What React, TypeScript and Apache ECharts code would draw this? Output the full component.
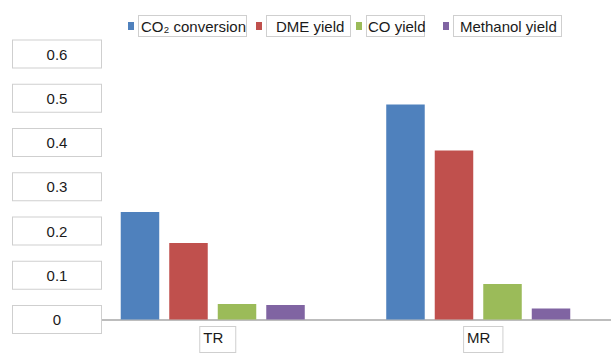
import React, { useEffect, useRef } from "react";
import * as echarts from "echarts";

const categories = ["TR", "MR"];
const seriesNames = ["CO₂ conversion", "DME yield", "CO yield", "Methanol yield"];
const co2Conversion = [0.243, 0.486];
const dmeYield = [0.173, 0.382];
const coYield = [0.035, 0.08];
const methanolYield = [0.033, 0.025];
const yTickLabels = ["0", "0.1", "0.2", "0.3", "0.4", "0.5", "0.6"];

const colors = ["#4F81BD", "#C0504D", "#9BBB59", "#8064A2"];
const FONT = "'Liberation Sans', Arial, sans-serif";
const BOX = "#cfcfcf";

export default function App() {
  const ref = useRef<HTMLDivElement>(null);
  useEffect(() => {
    if (!ref.current) return;
    const chart = echarts.init(ref.current, null, { renderer: "svg" });
    const values = [co2Conversion, dmeYield, coYield, methanolYield];
    const legendCfg = [
      { left: 128, width: 104, padding: [2, 1, 2, 2] },
      { left: 256, width: 72, padding: [2, 2, 2, 9] },
      { left: 356, width: 56, padding: [2, 0, 2, 1] },
      { left: 443, width: 100, padding: [2, 1, 2, 6] },
    ];
    const option: any = {
      animation: false,
      textStyle: { fontFamily: FONT },
      color: colors,
      legend: seriesNames.map((name, i) => ({
        left: legendCfg[i].left,
        top: 15,
        icon: "rect",
        itemWidth: 6,
        itemHeight: 8,
        padding: 0,
        data: [
          {
            name,
            textStyle: {
              fontFamily: FONT,
              fontSize: 15,
              color: "#1a1a1a",
              lineHeight: 16,
              width: legendCfg[i].width,
              overflow: "none",
              padding: legendCfg[i].padding,
              borderColor: BOX,
              borderWidth: 1,
              backgroundColor: "#fff",
            },
          },
        ],
      })),
      grid: { left: 80, top: 54, width: 538, height: 265.5 },
      xAxis: {
        type: "category",
        data: categories,
        z: 1,
        axisLine: { lineStyle: { color: "#bdbdbd", width: 2 } },
        axisTick: { show: false },
        axisLabel: {
          margin: 12,
          formatter: (v: string) => `{sp|}{box|${v}}`,
          rich: {
            sp: { width: 10 },
            box: {
              lineHeight: 16,
              padding: [3, 12, 7, 3],
              fontSize: 15,
              fontFamily: FONT,
              color: "#1a1a1a",
              borderColor: BOX,
              borderWidth: 1,
              backgroundColor: "#fff",
            },
          },
        },
      },
      yAxis: {
        type: "value",
        min: 0,
        max: 0.6,
        interval: 0.1,
        z: 5,
        axisLine: { show: false },
        axisTick: { show: false },
        splitLine: { show: false },
        axisLabel: {
          margin: -21,
          formatter: (v: number) => `{b|${yTickLabels[Math.round(v * 10)]}}`,
          rich: {
            b: {
              width: 88,
              height: 27,
              lineHeight: 27,
              align: "center",
              fontSize: 15,
              fontFamily: FONT,
              color: "#1a1a1a",
              borderColor: BOX,
              borderWidth: 1,
              backgroundColor: "#fff",
            },
          },
        },
      },
      series: seriesNames.map((name, i) => ({
        name,
        type: "bar",
        data: values[i],
        barWidth: 38.5,
        barGap: "26%",
        itemStyle: { color: colors[i] },
      })),
    };
    chart.setOption(option);
    return () => chart.dispose();
  }, []);
  return (
    <div
      ref={ref}
      style={{ position: "fixed", left: 0, top: 0, width: 611, height: 353, background: "#fff" }}
    />
  );
}
